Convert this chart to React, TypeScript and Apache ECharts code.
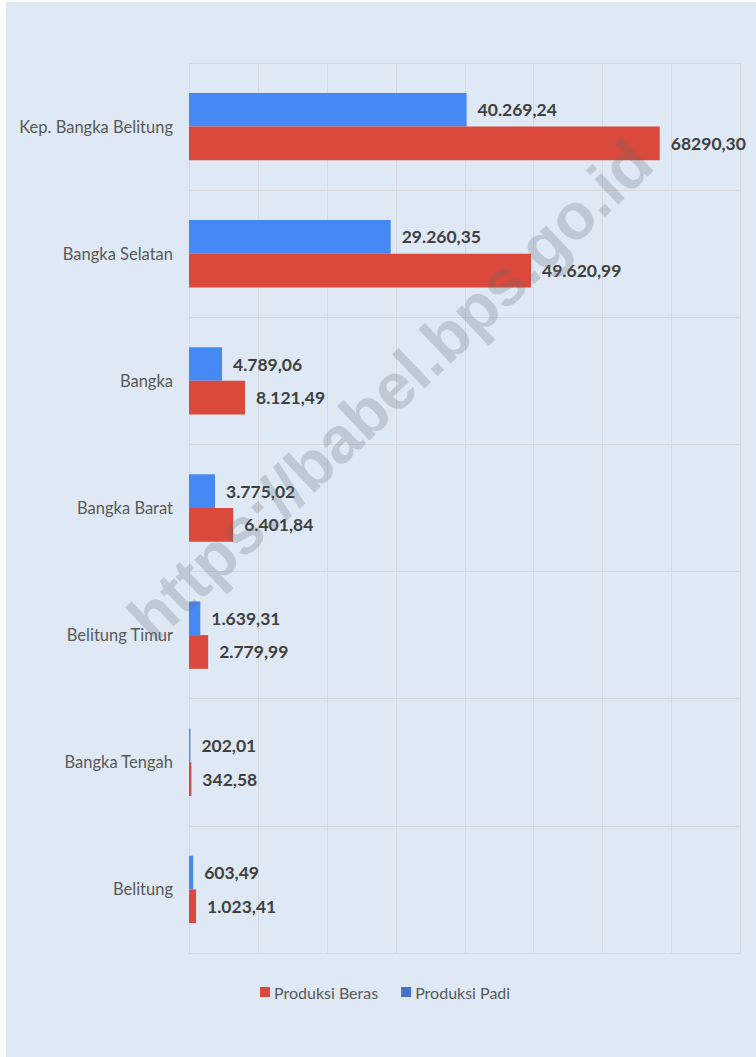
import React, { useEffect, useRef } from "react";
import * as echarts from "echarts";

const categories = [
  "Kep. Bangka Belitung",
  "Bangka Selatan",
  "Bangka",
  "Bangka Barat",
  "Belitung Timur",
  "Bangka Tengah",
  "Belitung",
];
const padiValues = [40269.24, 29260.35, 4789.06, 3775.02, 1639.31, 202.01, 603.49];
const berasValues = [68290.3, 49620.99, 8121.49, 6401.84, 2779.99, 342.58, 1023.41];
const padiLabels = ["40.269,24", "29.260,35", "4.789,06", "3.775,02", "1.639,31", "202,01", "603,49"];
const berasLabels = ["68290,30", "49.620,99", "8.121,49", "6.401,84", "2.779,99", "342,58", "1.023,41"];
const xTicks = { min: 0, max: 80000, interval: 10000 };

const W = 756;
const H = 1057;

export default function App() {
  const ref = useRef<HTMLDivElement>(null);
  useEffect(() => {
    document.body.style.margin = "0";
    const chart = echarts.init(ref.current!, null, { renderer: "svg" });
    const labelStyle = {
      show: true,
      position: "right" as const,
      distance: 11,
      fontFamily: "Lato",
      fontWeight: "bold" as const,
      fontSize: 17.5,
      color: "#404040",
    };
    chart.setOption({
      animation: false,
      backgroundColor: "#ffffff",
      graphic: [
        {
          type: "rect",
          shape: { x: 6, y: 2, width: W - 6, height: H - 2 },
          style: { fill: "#DEE9F5" },
          z: -10,
          silent: true,
        },
        {
          type: "text",
          x: 390,
          y: 390,
          rotation: (43.5 * Math.PI) / 180,
          z: 100,
          silent: true,
          style: {
            text: "https://babel.bps.go.id",
            fontFamily: "Liberation Sans",
            fontWeight: "bold",
            fontSize: 65,
            fill: "rgba(100,108,118,0.25)",
            align: "center",
            verticalAlign: "middle",
          },
        },
      ],
      legend: {
        data: [
          { name: "Produksi Beras", itemStyle: { color: "#DA493B" } },
          { name: "Produksi Padi", itemStyle: { color: "#4472C4" } },
        ],
        left: 255,
        top: 979,
        itemWidth: 10,
        itemHeight: 10,
        itemGap: 23,
        icon: "rect",
        textStyle: { fontFamily: "Lato", fontSize: 16, color: "#595959", padding: [0, 0, 0, -1] },
      },
      grid: { left: 189, right: 15.5, top: 63, bottom: 104, containLabel: false },
      xAxis: {
        type: "value",
        min: xTicks.min,
        max: xTicks.max,
        interval: xTicks.interval,
        axisLabel: { show: false },
        axisLine: { show: false },
        axisTick: { show: false },
        splitLine: { show: true, lineStyle: { color: "#D6D9DC", width: 1 } },
      },
      yAxis: {
        type: "category",
        data: categories,
        inverse: true,
        axisLine: { show: true, lineStyle: { color: "#D6D9DC", width: 1 } },
        axisTick: { show: false },
        splitLine: { show: true, lineStyle: { color: "#D6D9DC", width: 1 } },
        axisLabel: {
          margin: 16,
          fontFamily: "Lato",
          fontSize: 16.5,
          color: "#595959",
        },
      },
      series: [
        {
          name: "Produksi Padi",
          type: "bar",
          data: padiValues,
          barGap: "0%",
          barCategoryGap: "47%",
          itemStyle: { color: "#4589F4" },
          label: { ...labelStyle, formatter: (p: any) => padiLabels[p.dataIndex] },
        },
        {
          name: "Produksi Beras",
          type: "bar",
          data: berasValues,
          barGap: "0%",
          barCategoryGap: "47%",
          itemStyle: { color: "#DA493B" },
          label: { ...labelStyle, formatter: (p: any) => berasLabels[p.dataIndex] },
        },
      ],
    });
    return () => chart.dispose();
  }, []);
  return <div ref={ref} style={{ width: W, height: H }} />;
}
